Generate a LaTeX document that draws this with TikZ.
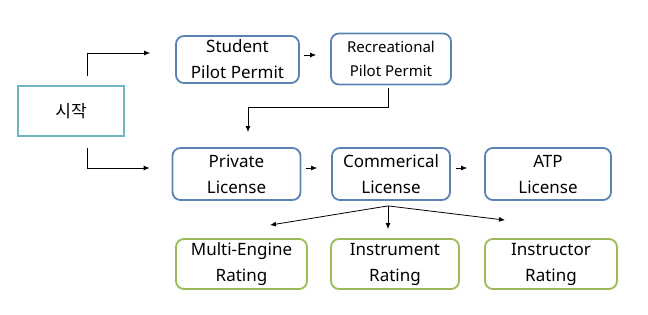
\documentclass[tikz,border=0pt]{standalone}
\usepackage{fontspec}
\setmainfont{Noto Sans}
\newfontfamily\cjk{Noto Sans CJK KR}
\usetikzlibrary{arrows.meta,calc}
\definecolor{bbox}{HTML}{5B82B5}
\definecolor{gbox}{HTML}{9BBB59}
\definecolor{tbox}{HTML}{6FB6C2}
\tikzset{
  lic/.style={draw=bbox, line width=1.8pt, rounded corners=8pt, align=center, inner sep=0pt, font=\fontsize{17}{26}\selectfont},
  rat/.style={lic, draw=gbox},
  startbox/.style={draw=tbox, line width=1.8pt, align=center, inner sep=0pt, font=\cjk\fontsize{17}{20}\selectfont},
  arr/.style={-{Latex[length=6pt,width=5pt]}, line width=0.8pt}
}
\begin{document}
\begin{tikzpicture}[x=1pt,y=-1pt]
\useasboundingbox (0,0) rectangle (648,314);
% boxes
\node[startbox, minimum width=106pt, minimum height=50pt] (start) at (71,111) {시작};
\node[lic, minimum width=123pt, minimum height=47pt] (spp) at (237.5,59.5) {Student\\Pilot Permit};
\node[lic, minimum width=120pt, minimum height=51pt, font=\fontsize{15}{24}\selectfont] (rpp) at (391,59) {Recreational\\Pilot Permit};
\node[lic, minimum width=128pt, minimum height=52pt] (pl) at (236.5,174) {Private\\License};
\node[lic, minimum width=118pt, minimum height=52pt] (cl) at (391,174) {Commerical\\License};
\node[lic, minimum width=126pt, minimum height=52pt] (atp) at (548,174) {ATP\\License};
\node[rat, minimum width=131pt, minimum height=50pt] (me) at (241.5,264) {Multi-Engine\\Rating};
\node[rat, minimum width=128pt, minimum height=50pt] (ir) at (395,264) {Instrument\\Rating};
\node[rat, minimum width=132pt, minimum height=50pt] (inr) at (551,264) {Instructor\\Rating};
% start arrows (free ends)
\coordinate (s1) at ($(start.north)+(16,-9)$);
\coordinate (s1e) at ($(spp.west)+(-25,-6.5)$);
\coordinate (s2) at ($(start.south)+(16,11)$);
\coordinate (s2e) at ($(pl.west)+(-22,-6)$);
\draw[arr] (s1) |- (s1e);
\draw[arr] (s2) |- (s2e);
% top row
\draw[arr] ($(spp.east)+(4,-4.5)$) -- ($(rpp.west)+(-14,-4)$);
\coordinate (r1) at ($(rpp.south)+(-3,3)$);
\coordinate (r2) at ($(pl.north)+(11.5,-15)$);
\draw[arr] (r1) -- ++(0,19) -| (r2);
% middle row
\draw[arr] ($(pl.east)+(4.5,-6)$) -- ($(cl.west)+(-14,-6)$);
\draw[arr] ($(cl.east)+(5,-6)$) -- ($(atp.west)+(-17,-6)$);
% fan
\coordinate (f) at ($(cl.south)+(-3,5)$);
\draw[arr] (f) -- ($(me.north)+(28.5,-13)$);
\draw[arr] (f) -- ($(ir.north)+(-7,-9)$);
\draw[arr] (f) -- ($(inr.north)+(-46,-18)$);
\end{tikzpicture}
\end{document}
